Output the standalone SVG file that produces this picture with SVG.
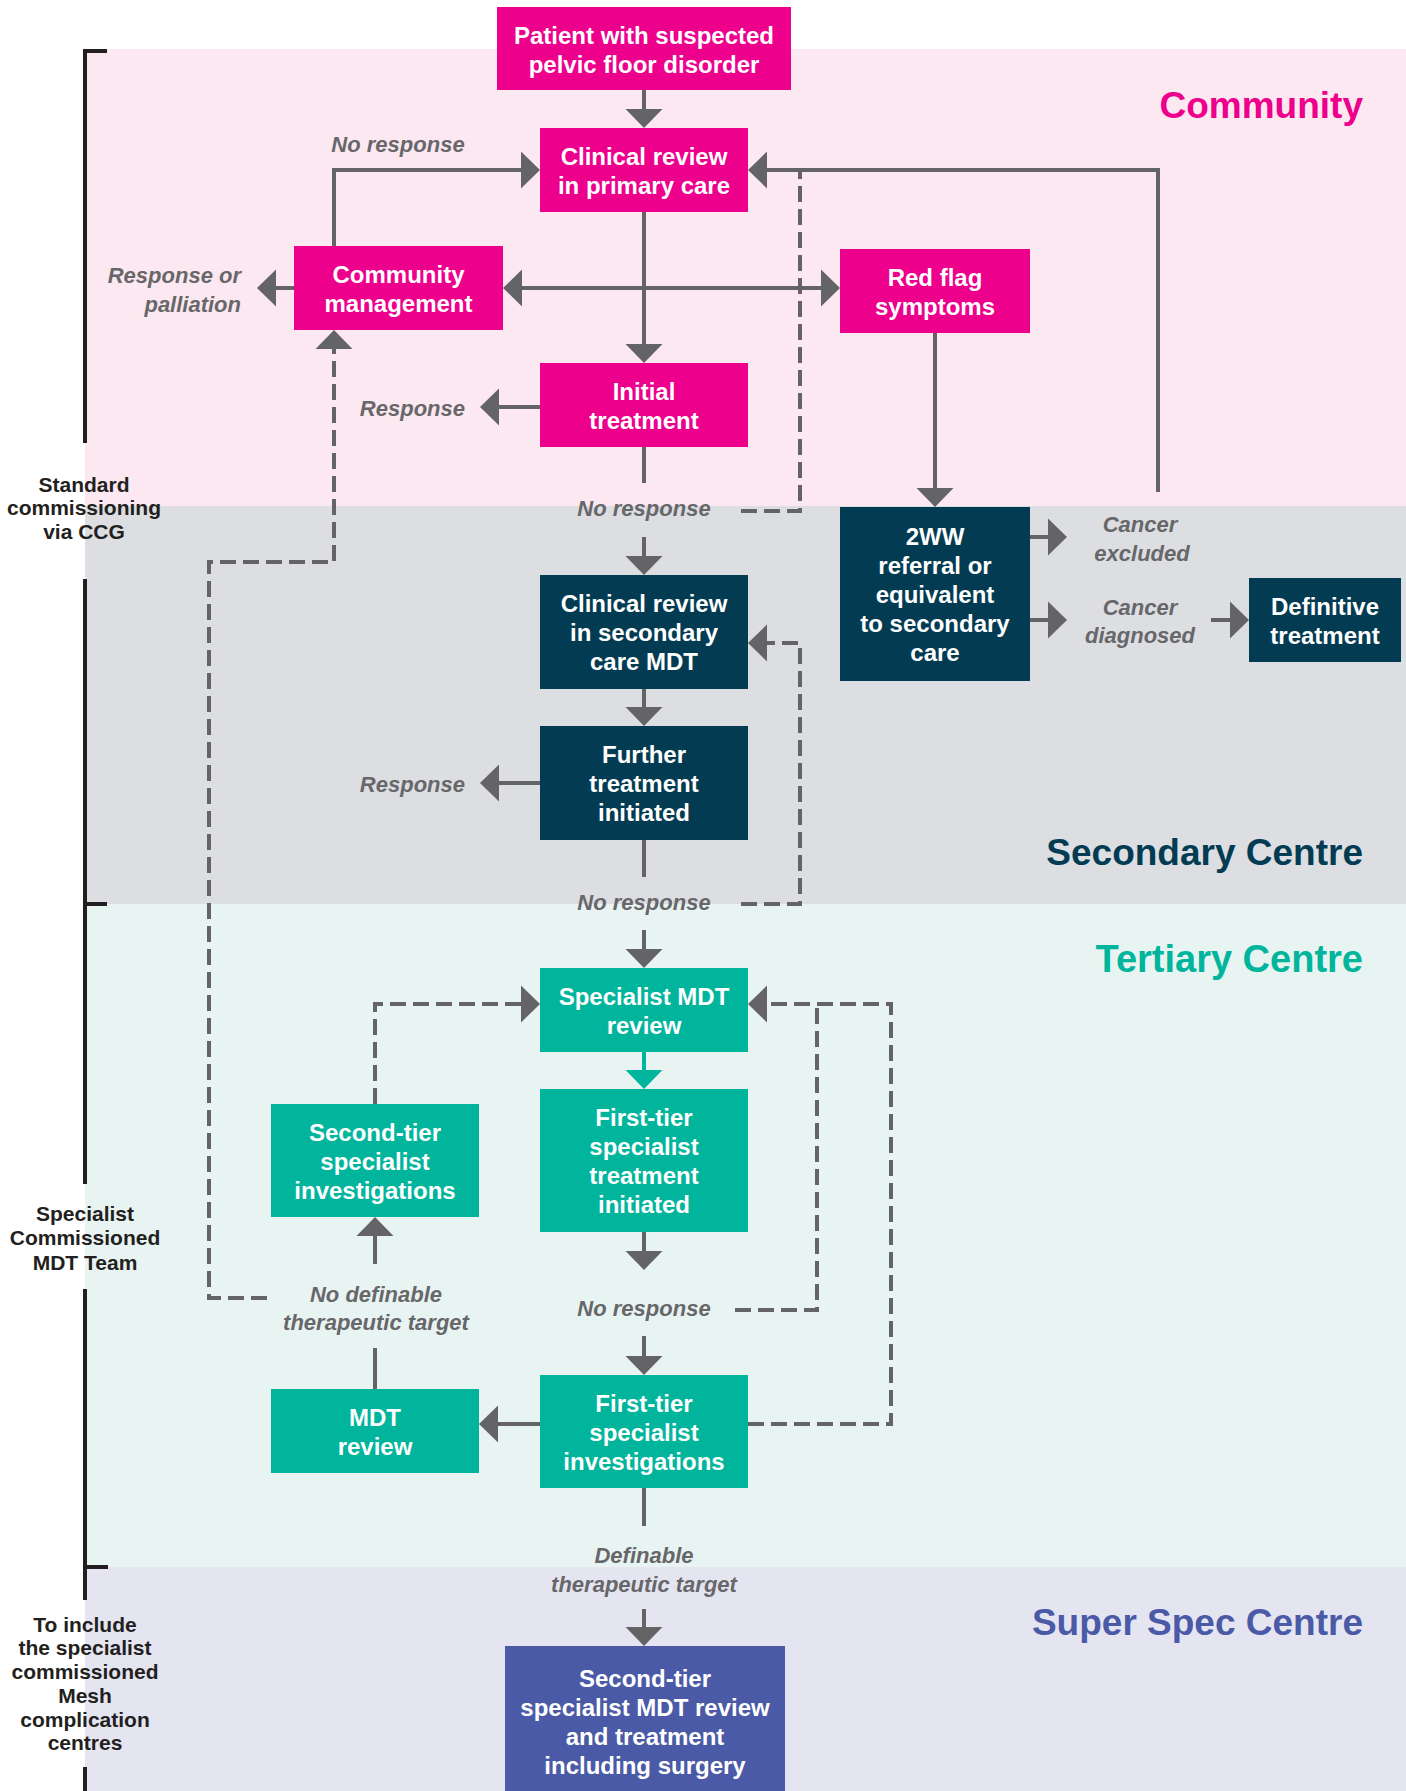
<svg xmlns="http://www.w3.org/2000/svg" width="1406" height="1791" viewBox="0 0 1406 1791">
<style>
.nt{font-family:"Liberation Sans",Arial,sans-serif;font-weight:bold;font-size:24px;fill:#ffffff;text-anchor:middle}
.lb{font-family:"Liberation Sans",Arial,sans-serif;font-weight:bold;font-style:italic;font-size:22px;fill:#67676a}
.lbm{text-anchor:middle}
.lbr{text-anchor:end}
.side{font-family:"Liberation Sans",Arial,sans-serif;font-weight:bold;font-size:21px;fill:#231f20;text-anchor:middle}
.hd{font-family:"Liberation Sans",Arial,sans-serif;font-weight:bold;text-anchor:end}
.pink{fill:#ec008c}
.dark{fill:#033c52}
.teal{fill:#00b59c}
.blue{fill:#4a5aa6}
.c{fill:none;stroke:#646466;stroke-width:4}
.d{stroke-dasharray:16 7}
.br{fill:none;stroke:#231f20;stroke-width:4}
</style>
<defs>
<marker id="arr" markerUnits="userSpaceOnUse" markerWidth="20" markerHeight="37" refX="9" refY="18.5" orient="auto-start-reverse" overflow="visible">
<path d="M0,0 L19,18.5 L0,37 Z" fill="#646466"/>
</marker>
<marker id="arrT" markerUnits="userSpaceOnUse" markerWidth="20" markerHeight="37" refX="9" refY="18.5" orient="auto" overflow="visible">
<path d="M0,0 L19,18.5 L0,37 Z" fill="#00b59c"/>
</marker>
</defs>

<!-- bands -->
<rect x="85" y="49" width="1321" height="457" fill="#fce8f0"/>
<rect x="85" y="506" width="1321" height="398" fill="#dcdee2"/>
<rect x="85" y="904" width="1321" height="663" fill="#e8f4f2"/>
<rect x="85" y="1567" width="1321" height="224" fill="#e5e5f1"/>

<!-- bracket -->
<g id="bracket">
<path class="br" d="M107,51 H85 V443"/>
<path class="br" d="M85,579 V1184"/>
<path class="br" d="M85,904 H107"/>
<path class="br" d="M85,1289 V1600"/>
<path class="br" d="M85,1567 H108"/>
<path class="br" d="M85,1767 V1791"/>
</g>
<g id="side-labels">
<text class="side"><tspan x="84" y="492">Standard</tspan><tspan x="84" y="515">commissioning</tspan><tspan x="84" y="539">via CCG</tspan></text>
<text class="side"><tspan x="85" y="1221">Specialist</tspan><tspan x="85" y="1245">Commissioned</tspan><tspan x="85" y="1270">MDT Team</tspan></text>
<text class="side"><tspan x="85" y="1632">To include</tspan><tspan x="85" y="1655">the specialist</tspan><tspan x="85" y="1679">commissioned</tspan><tspan x="85" y="1703">Mesh</tspan><tspan x="85" y="1727">complication</tspan><tspan x="85" y="1750">centres</tspan></text>
</g>

<!-- headings -->
<g id="headings">
<text class="hd pink" x="1363" y="118" font-size="37">Community</text>
<text class="hd dark" x="1363" y="865" font-size="37">Secondary Centre</text>
<text class="hd teal" x="1363" y="972" font-size="38">Tertiary Centre</text>
<text class="hd blue" x="1363" y="1635" font-size="37">Super Spec Centre</text>
</g>

<!-- connectors -->
<g id="connectors">
<path class="c" d="M644,90 V118" marker-end="url(#arr)"/>
<path class="c" d="M644,212 V353" marker-end="url(#arr)"/>
<path class="c" d="M513,288 H830" marker-start="url(#arr)" marker-end="url(#arr)"/>
<path class="c" d="M334,246 V170 H530" marker-end="url(#arr)"/>
<path class="c" d="M294,288 H267" marker-end="url(#arr)"/>
<path class="c" d="M540,407 H490" marker-end="url(#arr)"/>
<path class="c" d="M644,447 V483"/>
<path class="c" d="M644,537 V565" marker-end="url(#arr)"/>
<path class="c d" d="M741,511 H800 V172"/>
<path class="c" d="M1158,492 V170 H758" marker-end="url(#arr)"/>
<path class="c" d="M935,333 V497" marker-end="url(#arr)"/>
<path class="c" d="M1030,537 H1057" marker-end="url(#arr)"/>
<path class="c" d="M1030,620 H1057" marker-end="url(#arr)"/>
<path class="c" d="M1211,620 H1239" marker-end="url(#arr)"/>
<path class="c" d="M644,689 V716" marker-end="url(#arr)"/>
<path class="c" d="M540,783 H490" marker-end="url(#arr)"/>
<path class="c" d="M644,840 V877"/>
<path class="c" d="M644,930 V958" marker-end="url(#arr)"/>
<path class="c d" d="M741,904 H800 V643 H758" marker-end="url(#arr)"/>
<path class="c d" d="M267,1298 H209 V562 H334 V340" marker-end="url(#arr)"/>
<path fill="none" stroke="#00b59c" stroke-width="4" d="M644,1052 V1079" marker-end="url(#arrT)"/>
<path class="c" d="M644,1232 V1260" marker-end="url(#arr)"/>
<path class="c" d="M644,1336 V1365" marker-end="url(#arr)"/>
<path class="c d" d="M735,1310 H817 V1004"/>
<path class="c d" d="M748,1424 H891 V1004 H758" marker-end="url(#arr)"/>
<path class="c" d="M540,1424 H489" marker-end="url(#arr)"/>
<path class="c" d="M375,1389 V1348"/>
<path class="c" d="M375,1264 V1227" marker-end="url(#arr)"/>
<path class="c d" d="M375,1104 V1004 H530" marker-end="url(#arr)"/>
<path class="c" d="M644,1488 V1526"/>
<path class="c" d="M644,1609 V1636" marker-end="url(#arr)"/>
</g>

<!-- connector labels -->
<g id="labels">
<text class="lb lbm" x="398" y="152">No response</text>
<text class="lb lbr"><tspan x="241" y="283">Response or</tspan><tspan x="241" y="312">palliation</tspan></text>
<text class="lb lbr" x="465" y="416">Response</text>
<text class="lb lbm" x="644" y="516">No response</text>
<text class="lb lbm"><tspan x="1140" y="532">Cancer</tspan><tspan x="1142" y="561">excluded</tspan></text>
<text class="lb lbm"><tspan x="1140" y="615">Cancer</tspan><tspan x="1140" y="643">diagnosed</tspan></text>
<text class="lb lbr" x="465" y="792">Response</text>
<text class="lb lbm" x="644" y="910">No response</text>
<text class="lb lbm"><tspan x="376" y="1302">No definable</tspan><tspan x="376" y="1330">therapeutic target</tspan></text>
<text class="lb lbm" x="644" y="1316">No response</text>
<text class="lb lbm"><tspan x="644" y="1563">Definable</tspan><tspan x="644" y="1592">therapeutic target</tspan></text>
</g>

<!-- nodes -->
<g id="n-patient"><rect class="pink" x="497" y="7" width="294" height="83"/><text class="nt"><tspan x="644" y="44">Patient with suspected</tspan><tspan x="644" y="73">pelvic floor disorder</tspan></text></g>
<g id="n-clinical-primary"><rect class="pink" x="540" y="128" width="208" height="84"/><text class="nt"><tspan x="644" y="165">Clinical review</tspan><tspan x="644" y="194">in primary care</tspan></text></g>
<g id="n-community-mgmt"><rect class="pink" x="294" y="246" width="209" height="84"/><text class="nt"><tspan x="398.5" y="283">Community</tspan><tspan x="398.5" y="312">management</tspan></text></g>
<g id="n-initial"><rect class="pink" x="540" y="363" width="208" height="84"/><text class="nt"><tspan x="644" y="400">Initial</tspan><tspan x="644" y="429">treatment</tspan></text></g>
<g id="n-redflag"><rect class="pink" x="840" y="249" width="190" height="84"/><text class="nt"><tspan x="935" y="286">Red flag</tspan><tspan x="935" y="315">symptoms</tspan></text></g>
<g id="n-2ww"><rect class="dark" x="840" y="507" width="190" height="174"/><text class="nt"><tspan x="935" y="545">2WW</tspan><tspan x="935" y="574">referral or</tspan><tspan x="935" y="603">equivalent</tspan><tspan x="935" y="632">to secondary</tspan><tspan x="935" y="661">care</tspan></text></g>
<g id="n-definitive"><rect class="dark" x="1249" y="578" width="152" height="84"/><text class="nt"><tspan x="1325" y="615">Definitive</tspan><tspan x="1325" y="644">treatment</tspan></text></g>
<g id="n-clinical-secondary"><rect class="dark" x="540" y="575" width="208" height="114"/><text class="nt"><tspan x="644" y="612">Clinical review</tspan><tspan x="644" y="641">in secondary</tspan><tspan x="644" y="670">care MDT</tspan></text></g>
<g id="n-further"><rect class="dark" x="540" y="726" width="208" height="114"/><text class="nt"><tspan x="644" y="763">Further</tspan><tspan x="644" y="792">treatment</tspan><tspan x="644" y="821">initiated</tspan></text></g>
<g id="n-specialist-mdt"><rect class="teal" x="540" y="968" width="208" height="84"/><text class="nt"><tspan x="644" y="1005">Specialist MDT</tspan><tspan x="644" y="1034">review</tspan></text></g>
<g id="n-first-tier-treatment"><rect class="teal" x="540" y="1089" width="208" height="143"/><text class="nt"><tspan x="644" y="1126">First-tier</tspan><tspan x="644" y="1155">specialist</tspan><tspan x="644" y="1184">treatment</tspan><tspan x="644" y="1213">initiated</tspan></text></g>
<g id="n-second-tier-inv"><rect class="teal" x="271" y="1104" width="208" height="113"/><text class="nt"><tspan x="375" y="1141">Second-tier</tspan><tspan x="375" y="1170">specialist</tspan><tspan x="375" y="1199">investigations</tspan></text></g>
<g id="n-first-tier-inv"><rect class="teal" x="540" y="1375" width="208" height="113"/><text class="nt"><tspan x="644" y="1412">First-tier</tspan><tspan x="644" y="1441">specialist</tspan><tspan x="644" y="1470">investigations</tspan></text></g>
<g id="n-mdt-review"><rect class="teal" x="271" y="1389" width="208" height="84"/><text class="nt"><tspan x="375" y="1426">MDT</tspan><tspan x="375" y="1455">review</tspan></text></g>
<g id="n-second-tier-mdt"><rect class="blue" x="505" y="1646" width="280" height="150"/><text class="nt"><tspan x="645" y="1687">Second-tier</tspan><tspan x="645" y="1716">specialist MDT review</tspan><tspan x="645" y="1745">and treatment</tspan><tspan x="645" y="1774">including surgery</tspan></text></g>
</svg>
